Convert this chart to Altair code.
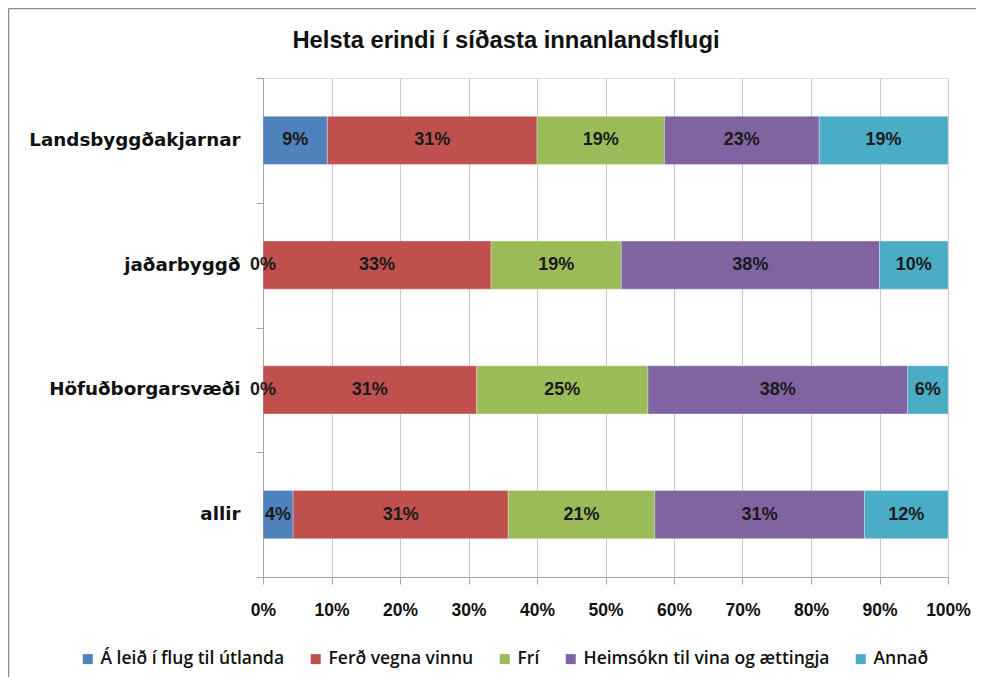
import altair as alt
import pandas as pd

categories = ["Landsbyggðakjarnar", "jaðarbyggð", "Höfuðborgarsvæði", "allir"]
series = ["Á leið í flug til útlanda", "Ferð vegna vinnu", "Frí",
          "Heimsókn til vina og ættingja", "Annað"]
colors = ["#4F81BD", "#C0504D", "#9BBB59", "#8064A2", "#4BACC6"]
title_text = "Helsta erindi í síðasta innanlandsflugi"

# percent of respondents per category
a_leid = [9.4, 0.0, 0.0, 4.4]
ferd = [30.6, 33.3, 31.2, 31.4]
fri = [18.6, 19.0, 25.0, 21.4]
heimsokn = [22.6, 37.7, 37.9, 30.6]
annad = [18.8, 10.0, 5.9, 12.2]
x_ticks = [0, 0.1, 0.2, 0.3, 0.4, 0.5, 0.6, 0.7, 0.8, 0.9, 1.0]

rows = []
for si, (s, vals) in enumerate(zip(series, [a_leid, ferd, fri, heimsokn, annad])):
    for c, v in zip(categories, vals):
        rows.append({"cat": c, "series": s, "order": si, "value": v})
df = pd.DataFrame(rows)

W, H = 685, 499
FONT = "Liberation Sans"

base = alt.Chart(df).transform_stack(
    stack="value", groupby=["cat"], sort=[alt.SortField("order")],
    as_=["v0", "v1"], offset="normalize"
).transform_calculate(
    mid="(datum.v0 + datum.v1) / 2",
    label="format(datum.value / 100, '.0%')"
)

yenc = alt.Y("cat:N", sort=categories,
             scale=alt.Scale(paddingInner=0, paddingOuter=0),
             axis=alt.Axis(title=None, labelFont="DejaVu Sans", labelFontSize=18.3,
                           labelFontWeight="bold", labelColor="#111111",
                           labelPadding=16, labelLimit=400, tickBand="extent",
                           tickSize=7, tickColor="#A6A6A6",
                           domainColor="#A6A6A6", grid=False))

bars = base.mark_bar(height=alt.RelativeBandSize(0.385), stroke="white",
                     strokeWidth=0.5, strokeOpacity=0.6).encode(
    x=alt.X("v0:Q", scale=alt.Scale(domain=[0, 1]),
            axis=alt.Axis(title=None, values=x_ticks, format=".0%",
                          labelFont=FONT, labelFontSize=17.5,
                          labelFontWeight="bold", labelColor="#111111",
                          labelPadding=17, labelFlush=False, labelBound=False,
                          labelOverlap=False, tickSize=7, tickColor="#A6A6A6",
                          domainColor="#A6A6A6", grid=True,
                          gridColor="#C8C8C8")),
    x2="v1:Q",
    y=yenc,
    color=alt.Color("series:N", scale=alt.Scale(domain=series, range=colors),
                    legend=alt.Legend(title=None, orient="none",
                                      direction="horizontal",
                                      legendX=-184, legendY=572,
                                      symbolType="square", symbolSize=100,
                                      symbolStrokeWidth=0, labelFont="Open Sans",
                                      labelFontSize=17.5, labelFontWeight=600,
                                      labelColor="#111111", labelOffset=4,
                                      columnPadding=22, labelLimit=400)),
)

texts = base.mark_text(font=FONT, fontSize=18, fontWeight="bold",
                       color="#1a1a1a").encode(
    x="mid:Q",
    y=alt.Y("cat:N", sort=categories),
    text="label:N",
)

one = pd.DataFrame({"k": [0]})
title_mark = alt.Chart(one).mark_text(font=FONT, fontSize=23.8, fontWeight="bold",
                                      color="#111111", align="center",
                                      baseline="alphabetic").encode(
    x=alt.value(243), y=alt.value(-30), text=alt.value(title_text))
frame_top = alt.Chart(one).mark_rule(color="#8C8C8C", strokeWidth=1.5).encode(
    x=alt.value(-254.5), x2=alt.value(713), y=alt.value(-69.5))
frame_left = alt.Chart(one).mark_rule(color="#8C8C8C", strokeWidth=1.5).encode(
    x=alt.value(-254.5), y=alt.value(-69.5), y2=alt.value(600))

chart = alt.layer(bars, texts, title_mark, frame_top, frame_left).properties(
    width=W, height=H,
    autosize=alt.AutoSizeParams(type="none"),
    padding={"left": 255, "top": 70, "right": 28, "bottom": 100},
).configure_view(stroke=None).configure(background="white")

chart.save("out.html", embed_options={"renderer": "svg", "actions": False})
